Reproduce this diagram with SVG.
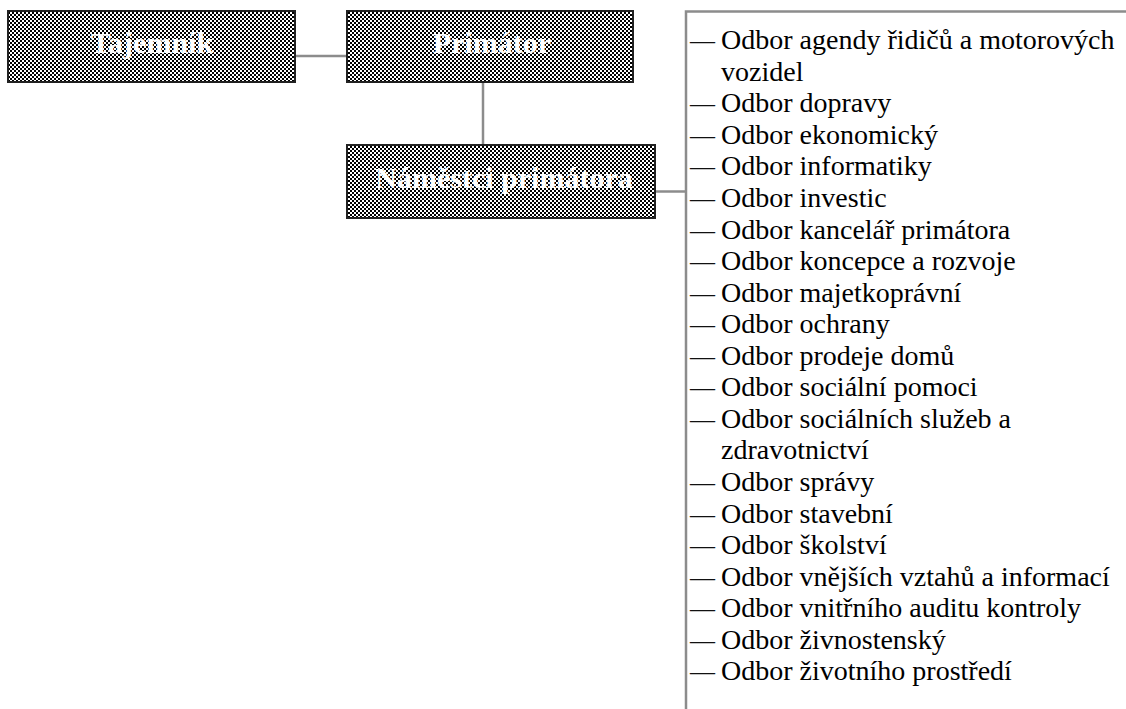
<svg xmlns="http://www.w3.org/2000/svg" width="1126" height="709" viewBox="0 0 1126 709">
<defs>
<pattern id="checker" width="4" height="4" patternUnits="userSpaceOnUse">
<rect width="4" height="4" fill="#fff"/>
<rect width="2" height="2" fill="#000"/>
<rect x="2" y="2" width="2" height="2" fill="#000"/>
</pattern>
</defs>
<style>
.box{fill:url(#checker);stroke:#222;stroke-width:2}
.btxt{font-family:"Liberation Serif",serif;font-weight:bold;font-size:30px;fill:#fff;text-anchor:middle}
.conn{stroke:#8c8c8c;stroke-width:2.5;fill:none}
.item{font-family:"Liberation Serif","Times New Roman",serif;font-size:28px;fill:#000}
.dash{font-family:"Liberation Serif","Times New Roman",serif;font-size:25px;fill:#111}
</style>
<rect width="1126" height="709" fill="#fff"/>
<g id="connectors">
<line class="conn" x1="280" y1="56" x2="347" y2="56"/>
<line class="conn" x1="483" y1="82" x2="483" y2="145"/>
<line class="conn" x1="642" y1="191.5" x2="686" y2="191.5"/>
<polyline class="conn" points="686,709 686,11.5 1126,11.5"/>
</g>
<g id="tajemnik">
<rect class="box" x="8" y="11" width="287" height="71"/>
<text class="btxt" x="152" y="53">Tajemník</text>
</g>
<g id="primator">
<rect class="box" x="347" y="11" width="286" height="71"/>
<text class="btxt" x="492" y="53">Primátor</text>
</g>
<g id="namestci">
<rect class="box" x="347" y="145" width="308" height="73"/>
<text class="btxt" x="504" y="188">Náměstci primátora</text>
</g>
<g id="odbory">
<text class="dash" x="690" y="49">—</text>
<text class="item" x="721" y="49">Odbor agendy řidičů a motorových</text>
<text class="item" x="721" y="80.5">vozidel</text>
<text class="dash" x="690" y="112">—</text>
<text class="item" x="721" y="112">Odbor dopravy</text>
<text class="dash" x="690" y="143.5">—</text>
<text class="item" x="721" y="143.5">Odbor ekonomický</text>
<text class="dash" x="690" y="175">—</text>
<text class="item" x="721" y="175">Odbor informatiky</text>
<text class="dash" x="690" y="207">—</text>
<text class="item" x="721" y="207">Odbor investic</text>
<text class="dash" x="690" y="238.5">—</text>
<text class="item" x="721" y="238.5">Odbor kancelář primátora</text>
<text class="dash" x="690" y="270">—</text>
<text class="item" x="721" y="270">Odbor koncepce a rozvoje</text>
<text class="dash" x="690" y="301.5">—</text>
<text class="item" x="721" y="301.5">Odbor majetkoprávní</text>
<text class="dash" x="690" y="333">—</text>
<text class="item" x="721" y="333">Odbor ochrany</text>
<text class="dash" x="690" y="364.5">—</text>
<text class="item" x="721" y="364.5">Odbor prodeje domů</text>
<text class="dash" x="690" y="396">—</text>
<text class="item" x="721" y="396">Odbor sociální pomoci</text>
<text class="dash" x="690" y="427.5">—</text>
<text class="item" x="721" y="427.5">Odbor sociálních služeb a</text>
<text class="item" x="721" y="459">zdravotnictví</text>
<text class="dash" x="690" y="491">—</text>
<text class="item" x="721" y="491">Odbor správy</text>
<text class="dash" x="690" y="522.5">—</text>
<text class="item" x="721" y="522.5">Odbor stavební</text>
<text class="dash" x="690" y="554">—</text>
<text class="item" x="721" y="554">Odbor školství</text>
<text class="dash" x="690" y="585.5">—</text>
<text class="item" x="721" y="585.5">Odbor vnějších vztahů a informací</text>
<text class="dash" x="690" y="617">—</text>
<text class="item" x="721" y="617">Odbor vnitřního auditu kontroly</text>
<text class="dash" x="690" y="648.5">—</text>
<text class="item" x="721" y="648.5">Odbor živnostenský</text>
<text class="dash" x="690" y="680">—</text>
<text class="item" x="721" y="680">Odbor životního prostředí</text>
</g>
</svg>
